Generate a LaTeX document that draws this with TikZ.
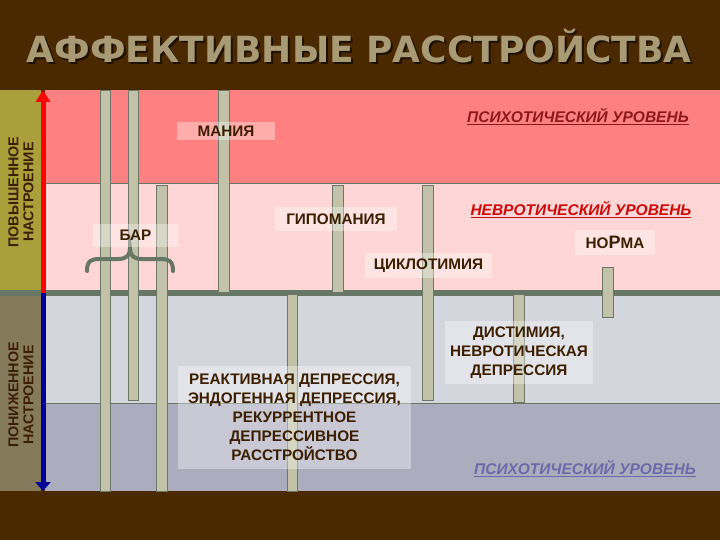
\documentclass[tikz,border=0pt]{standalone}
\usepackage{fontspec}
\setmainfont{Liberation Sans}
\newfontfamily\titlefont{DejaVu Sans}
\usetikzlibrary{arrows.meta}
\definecolor{bgbrown}{HTML}{4A2900}
\definecolor{titletan}{HTML}{A89A74}
\definecolor{titleshadow}{HTML}{1E1000}
\definecolor{pinkA}{HTML}{FF8080}
\definecolor{pinkB}{HTML}{FFD6D6}
\definecolor{greyA}{HTML}{D4D6DE}
\definecolor{greyB}{HTML}{ABADBF}
\definecolor{stripup}{HTML}{A99F3B}
\definecolor{stripdown}{HTML}{857B5B}
\definecolor{linegrey}{HTML}{667766}
\definecolor{barfill}{HTML}{C2C2A8}
\definecolor{baredge}{HTML}{6E786A}
\definecolor{labtext}{HTML}{3C1E00}
\definecolor{psyred}{HTML}{8B1A1A}
\definecolor{neured}{HTML}{CC0A0A}
\definecolor{psyblue}{HTML}{6A6AA8}
\definecolor{arrowblue}{HTML}{000099}
\newcommand{\shadowtext}[1]{{\color{titleshadow}\rlap{\kern2pt\raisebox{-2pt}{#1}}}#1}
\tikzset{
  bar/.style={fill=barfill, draw=baredge, line width=0.8pt},
  lab/.style={fill=white, fill opacity=0.35, text opacity=1, text=labtext,
    font=\fontsize{15.3}{19}\selectfont\bfseries, inner sep=0pt, align=center},
  level/.style={font=\fontsize{15.5}{18}\selectfont\bfseries\itshape, inner sep=0pt},
  side/.style={rotate=90, align=center, text=labtext,
    font=\fontsize{14.3}{15}\selectfont\bfseries, inner sep=0pt}
}
\begin{document}
\begin{tikzpicture}[x=1pt,y=-1pt]
\useasboundingbox (0,0) rectangle (720,540);
\fill[bgbrown] (0,0) rectangle (720,540);
% bands
\fill[pinkA] (45,90) rectangle (720,184);
\fill[pinkB] (45,184) rectangle (720,292);
\fill[greyA] (45,292) rectangle (720,403);
\fill[greyB] (45,403) rectangle (720,491);
\fill[stripup] (0,90) rectangle (41,292);
\fill[stripdown] (0,292) rectangle (41,491);
\draw[linegrey, line width=1pt] (45,184) -- (720,184);
\draw[linegrey, line width=1pt] (45,403) -- (720,403);
\fill[linegrey] (0,290) rectangle (720,296);
% bars
\path[bar] (100,90) rectangle (110,491);
\path[bar] (128,90) rectangle (138,400);
\path[bar] (156,185) rectangle (167,491);
\path[bar] (218,90) rectangle (229,292);
\path[bar] (332,185) rectangle (343,292);
\path[bar] (422,185) rectangle (433,400);
\path[bar] (287,294) rectangle (297,491);
\path[bar] (513,294) rectangle (524,402);
\path[bar] (602,267) rectangle (613,317);
% arrows
\draw[red, line width=5pt, -{Triangle[width=14pt,length=12pt]}] (43,293) -- (43,90);
\draw[arrowblue, line width=5pt, -{Triangle[width=15pt,length=9pt]}] (43,293) -- (43,491);
% side labels
\node[side] (up) at (21,192) {ПОВЫШЕННОЕ\\НАСТРОЕНИЕ};
\node[side] (down) at (21,395) {ПОНИЖЕННОЕ\\НАСТРОЕНИЕ};
% title
\node[font=\titlefont\bfseries\fontsize{36}{40}\selectfont, text=titletan] (title) at (359,47) {\shadowtext{АФФЕКТИВНЫЕ РАССТРОЙСТВА}};
% brace
\draw[linegrey, line width=4pt, line cap=round] (87,271) .. controls (87,260) and (92,259) .. (100,259) -- (118,259) .. controls (127,259) and (130,255) .. (130,248) .. controls (130,255) and (133,259) .. (142,259) -- (160,259) .. controls (168,259) and (173,260) .. (173,271);
% labels
\node[lab, minimum width=98pt, minimum height=18pt] (mania) at (226,131) {МАНИЯ};
\node[lab, minimum width=122pt, minimum height=24pt] (hypo) at (336,219) {ГИПОМАНИЯ};
\node[lab, minimum width=127pt, minimum height=25pt] (cyclo) at (428.5,265.5) {ЦИКЛОТИМИЯ};
\node[lab, minimum width=85pt, minimum height=23pt] (bar) at (135.5,235.5) {БАР};
\node[lab, minimum width=80pt, minimum height=25pt] (norma) at (615,242.5) {НО{\fontsize{18}{19}\selectfont Р}МА};
\node[lab, minimum width=233pt, minimum height=103pt] (react) at (294.5,417.5) {РЕАКТИВНАЯ ДЕПРЕССИЯ,\\ЭНДОГЕННАЯ ДЕПРЕССИЯ,\\РЕКУРРЕНТНОЕ\\ДЕПРЕССИВНОЕ\\РАССТРОЙСТВО};
\node[lab, minimum width=148pt, minimum height=63pt] (dysth) at (519,352.5) {ДИСТИМИЯ,\\НЕВРОТИЧЕСКАЯ\\ДЕПРЕССИЯ};
% level labels
\node[level, text=psyred] (psytop) at (578,117) {\underline{ПСИХОТИЧЕСКИЙ УРОВЕНЬ}};
\node[level, text=neured] (neur) at (581,210) {\underline{НЕВРОТИЧЕСКИЙ УРОВЕНЬ}};
\node[level, text=psyblue] (psybot) at (585,469) {\underline{ПСИХОТИЧЕСКИЙ УРОВЕНЬ}};
\end{tikzpicture}
\end{document}
